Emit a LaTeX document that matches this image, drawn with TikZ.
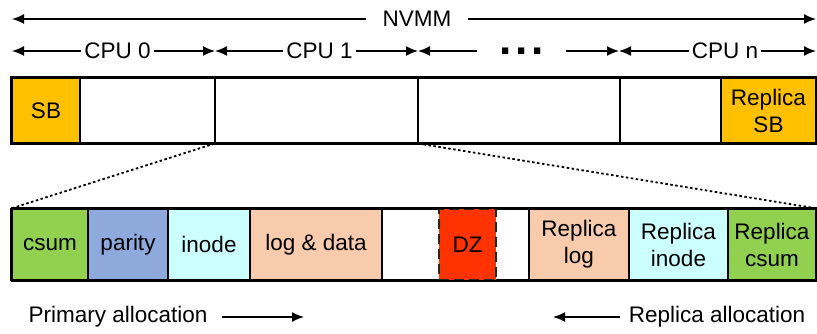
\documentclass[tikz,border=0pt]{standalone}
\usepackage{fontspec}
\setmainfont{Liberation Sans}
\usetikzlibrary{arrows.meta}

\definecolor{sbfill}{HTML}{FFC000}
\definecolor{csumfill}{HTML}{92D050}
\definecolor{parityfill}{HTML}{8EA9DB}
\definecolor{inodefill}{HTML}{CCFFFF}
\definecolor{logfill}{HTML}{F8CBAD}
\definecolor{dzfill}{HTML}{FF3300}
\definecolor{dzline}{HTML}{262626}

\begin{document}
\begin{tikzpicture}
[x=1pt,y=-1pt,%
  every node/.style={inner sep=0pt,font=\fontsize{22.5}{27}\selectfont},%
  cell/.style={shape=rectangle,draw,line width=1.2pt,minimum height=65pt,align=center},%
  slot/.style={shape=rectangle,draw,line width=1.2pt,minimum height=71pt,align=center},%
  span/.style={line width=1.6pt,-{Latex[length=12pt,width=10pt]}},%
  lab/.style={inner xsep=3pt}]
\useasboundingbox (0,0) rectangle (817,333);
% NVMM range
\node[inner xsep=16pt] (nvmm) at (417,19) {NVMM};
\coordinate (nvl) at (12,19);
\coordinate (nvr) at (816,19);
\draw[span] (nvmm.west) -- (nvl);
\draw[span] (nvmm.east) -- (nvr);
% per-CPU ranges
\coordinate (b0) at (12,51);
\coordinate (b1) at (215,51);
\coordinate (b2) at (418,51);
\coordinate (b3) at (619,51);
\coordinate (b4) at (816,51);
\node[lab] (cpu0) at (117.5,51) {CPU 0};
\node[lab] (cpu1) at (319.5,51) {CPU 1};
\node[inner xsep=22pt,font=\fontsize{44}{44}\bfseries] (dots) at (521.5,51) {.\kern4pt.\kern4pt.};
\node[lab] (cpun) at (725,51) {CPU n};
\draw[span] (cpu0.west) -- (b0);
\draw[span] (cpu0.east) -- (b1);
\draw[span] (cpu1.west) -- (b1);
\draw[span] (cpu1.east) -- (b2);
\draw[span] (dots.west |- b2) -- (b2);
\draw[span] (dots.east |- b3) -- (b3);
\draw[span] (cpun.west) -- (b3);
\draw[span] (cpun.east) -- (b4);
% NVMM layout
\node[cell,fill=sbfill,minimum width=68pt] (sb) at (46,110.5) {SB};
\node[cell,minimum width=135pt] (c0) at (147.5,110.5) {};
\node[cell,minimum width=203pt] (c1) at (316.5,110.5) {};
\node[cell,minimum width=202pt] (cd) at (519,110.5) {};
\node[cell,minimum width=101pt] (cn) at (670.5,110.5) {};
\node[cell,fill=sbfill,minimum width=95pt] (rsb) at (768.5,110.5) {Replica\\SB};
\draw[line width=2pt] (sb.north west) rectangle (rsb.south east);
% CPU 1 region
\node[slot,fill=csumfill,minimum width=76pt] (csum) at (50,244.5) {csum};
\node[slot,fill=parityfill,minimum width=80pt] (parity) at (128,244.5) {parity};
\node[slot,fill=inodefill,minimum width=82pt] (inode) at (209,244.5) {inode};
\node[slot,fill=logfill,minimum width=132pt] (log) at (316,244.5) {log \& data};
\node[slot,minimum width=147pt] (free) at (455.5,244.5) {};
\node[slot,fill=dzfill,draw=dzline,line width=2.6pt,dash pattern=on 10pt off 5pt,%
  minimum width=57pt] (dz) at (467.5,244.5) {DZ};
\node[slot,fill=logfill,minimum width=100pt] (rlog) at (579,244.5) {Replica\\log};
\node[slot,fill=inodefill,minimum width=99pt] (rinode) at (678.5,244.5) {Replica\\inode};
\node[slot,fill=csumfill,minimum width=88pt] (rcsum) at (772,244.5) {Replica\\csum};
\draw[line width=2pt] (csum.north west) -- (rcsum.north east);
\draw[line width=2pt] (csum.south west) -- (rcsum.south east);
\draw[line width=2pt] (csum.north west) -- (csum.south west);
% zoom lines
\draw[line width=1.8pt,dash pattern=on 2.5pt off 2.5pt] (c1.south west) -- (csum.north west);
\draw[line width=1.8pt,dash pattern=on 2.5pt off 2.5pt] (c1.south east) -- (rcsum.north east);
% allocation directions
\node (prim) at (118,317) {Primary allocation};
\coordinate (pa) at (222,317);
\coordinate (pb) at (304,317);
\draw[span] (pa) -- (pb);
\node (repl) at (717,317) {Replica allocation};
\coordinate (ra) at (620,317);
\coordinate (rb) at (553,317);
\draw[span] (ra) -- (rb);
\end{tikzpicture}
\end{document}
